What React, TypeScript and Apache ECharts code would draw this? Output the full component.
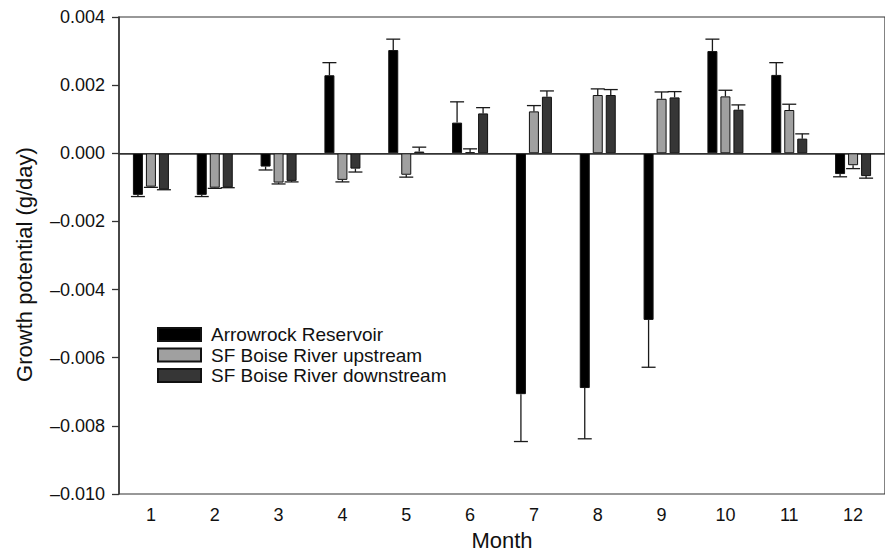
import React, { useEffect, useRef } from "react";
import * as echarts from "echarts";

const months = ["1", "2", "3", "4", "5", "6", "7", "8", "9", "10", "11", "12"];
const seriesNames = ["Arrowrock Reservoir", "SF Boise River upstream", "SF Boise River downstream"];

const arrowrockMean = [-0.00122, -0.00122, -0.00039, 0.00229, 0.00303, 0.0009, -0.00707, -0.00689, -0.00489, 0.003, 0.0023, -0.00061];
const arrowrockErr = [0.00005, 0.00005, 0.0001, 0.00037, 0.00032, 0.00061, 0.00139, 0.00149, 0.00139, 0.00035, 0.00036, 0.00008];
const upstreamMean = [-0.00098, -0.00101, -0.00086, -0.00078, -0.00063, 0.00003, 0.00123, 0.00171, 0.0016, 0.00167, 0.00127, -0.00035];
const upstreamErr = [0.00002, 0.00002, 0.00004, 0.00006, 0.00007, 0.0001, 0.00017, 0.00018, 0.0002, 0.00018, 0.00017, 0.0001];
const downstreamMean = [-0.00106, -0.001, -0.00081, -0.00045, 0.00005, 0.00117, 0.00166, 0.00171, 0.00164, 0.00128, 0.00043, -0.00067];
const downstreamErr = [0.00001, 0.00001, 0.00003, 0.0001, 0.00013, 0.00017, 0.00017, 0.00016, 0.00017, 0.00014, 0.00014, 0.00006];

const yTicks = { min: -0.01, max: 0.004, interval: 0.002 };

const FONT = "'Liberation Sans', Arial, Helvetica, sans-serif";
const BAR_W = 10;
const BAR_GAP = 3;
const colors = ["#000000", "#a0a0a0", "#363636"];

function fmt(v: number) {
  if (Math.abs(v) < 1e-9) return "0.000";
  const s = Math.abs(v).toFixed(3);
  return v < 0 ? "\u2013" + s : s;
}

function errSeries(means: number[], errs: number[], k: number) {
  const offset = (k - 1) * (BAR_W + BAR_GAP);
  return {
    type: "custom",
    silent: true,
    z: 1,
    data: means.map((m, i) => [i, m, errs[i]]),
    encode: { x: 0, y: 1 },
    renderItem: (_params: any, api: any) => {
      const i = api.value(0);
      const m = api.value(1);
      const e = api.value(2);
      const end = m >= 0 ? m + e : m - e;
      const p0 = api.coord([i, m]);
      const p1 = api.coord([i, end]);
      const x = p0[0] + offset;
      const st = { stroke: "#1a1a1a", lineWidth: 1.3 };
      return {
        type: "group",
        children: [
          { type: "line", shape: { x1: x, y1: p0[1], x2: x, y2: p1[1] }, style: st },
          { type: "line", shape: { x1: x - 7, y1: p1[1], x2: x + 7, y2: p1[1] }, style: st },
        ],
      };
    },
  };
}

function barSeries(name: string, data: number[], k: number) {
  return {
    name,
    type: "bar",
    data,
    barWidth: BAR_W,
    barGap: "30%",
    z: 2,
    itemStyle: { color: colors[k], borderColor: "#111", borderWidth: 1 },
    ...(k === 0
      ? {
          markLine: {
            silent: true,
            symbol: "none",
            label: { show: false },
            lineStyle: { color: "#333", width: 1.2, type: "solid" },
            data: [{ yAxis: 0 }],
          },
        }
      : {}),
  };
}

export default function App() {
  const ref = useRef<HTMLDivElement>(null);
  useEffect(() => {
    if (!ref.current) return;
    const chart = echarts.init(ref.current, undefined, { renderer: "svg" });
    chart.setOption({
      animation: false,
      backgroundColor: "#ffffff",
      textStyle: { fontFamily: FONT },
      grid: {
        left: 119,
        top: 17,
        width: 774,
        height: 477,
        show: true,
        borderColor: "#333",
        borderWidth: 1.2,
      },
      legend: {
        show: true,
        data: seriesNames,
        orient: "vertical",
        left: 157,
        top: 325,
        padding: 0,
        itemWidth: 43,
        itemHeight: 13,
        itemGap: 1.5,
        icon: "rect",
        selectedMode: false,
        textStyle: {
          fontFamily: FONT,
          fontSize: 19,
          lineHeight: 19,
          color: "#111",
          padding: [0, 0, 0, 5],
        },
      },
      xAxis: {
        type: "category",
        data: months,
        name: "Month",
        nameLocation: "middle",
        nameGap: 35,
        nameTextStyle: { fontFamily: FONT, fontSize: 22, color: "#111" },
        axisLine: { lineStyle: { color: "#333", width: 1.5 } },
        axisTick: { alignWithLabel: true, length: 6, lineStyle: { color: "#333", width: 1.3 } },
        axisLabel: { fontFamily: FONT, fontSize: 18, color: "#111", margin: 12 },
        splitLine: { show: false },
      },
      yAxis: {
        type: "value",
        min: yTicks.min,
        max: yTicks.max,
        interval: yTicks.interval,
        name: "Growth potential (g/day)",
        nameLocation: "middle",
        nameGap: 84,
        nameTextStyle: { fontFamily: FONT, fontSize: 22, color: "#111", padding: [0, 18, 0, 0] },
        axisLine: { show: true, lineStyle: { color: "#333", width: 1.5 } },
        axisTick: { show: true, length: 7, lineStyle: { color: "#333", width: 1.3 } },
        axisLabel: { fontFamily: FONT, fontSize: 18, color: "#111", margin: 14, formatter: fmt },
        splitLine: { show: false },
      },
      series: [
        barSeries(seriesNames[0], arrowrockMean, 0),
        barSeries(seriesNames[1], upstreamMean, 1),
        barSeries(seriesNames[2], downstreamMean, 2),
        errSeries(arrowrockMean, arrowrockErr, 0),
        errSeries(upstreamMean, upstreamErr, 1),
        errSeries(downstreamMean, downstreamErr, 2),
      ],
    });
    return () => chart.dispose();
  }, []);
  return <div ref={ref} style={{ position: "fixed", left: 0, top: 0, width: 885, height: 556 }} />;
}
